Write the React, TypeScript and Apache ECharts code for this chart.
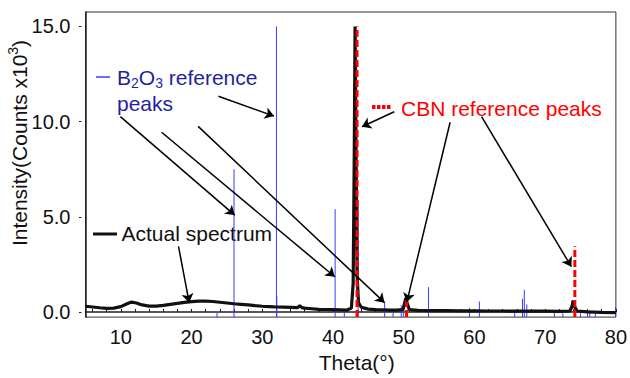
import React, { useEffect, useRef } from "react";
import * as echarts from "echarts";

// ---- Data (intensity in units of 10^3 counts) ----
const SPECTRUM_THETA = [
  5, 6, 7, 8, 9, 10, 10.8, 11.5, 12.2, 13, 14, 15, 16, 17, 18, 19, 20, 21, 22, 23, 24, 25, 26, 27, 28, 29, 30,
  31, 32, 33, 34, 35, 35.3, 35.6, 36, 37, 38, 39, 40, 41, 42, 42.6, 42.85, 43.0, 43.12, 43.25, 43.4, 43.6, 44.0,
  45, 46, 47, 48, 49, 49.9, 50.15, 50.3, 50.5, 50.8, 52, 54, 56, 58, 60, 62, 64, 66, 68, 70, 72, 73.5, 73.8,
  73.95, 74.15, 74.5, 76, 78, 80,
];
const SPECTRUM_INTENSITY = [
  0.3, 0.26, 0.22, 0.19, 0.2, 0.28, 0.42, 0.52, 0.47, 0.37, 0.31, 0.31, 0.35, 0.4, 0.45, 0.5, 0.54, 0.57, 0.57,
  0.55, 0.51, 0.47, 0.43, 0.4, 0.37, 0.33, 0.3, 0.28, 0.26, 0.25, 0.24, 0.23, 0.33, 0.23, 0.2, 0.17, 0.14, 0.13,
  0.12, 0.11, 0.1, 0.2, 1.5, 8.0, 15.0, 9.0, 2.0, 0.5, 0.25, 0.15, 0.12, 0.11, 0.1, 0.1, 0.12, 0.5, 0.72, 0.45,
  0.12, 0.08, 0.07, 0.07, 0.06, 0.06, 0.05, 0.05, 0.04, 0.04, 0.04, 0.03, 0.05, 0.3, 0.6, 0.3, 0.05, 0.0, -0.02,
  -0.03,
];

const B2O3_THETA = [
  23.6, 26.0, 32.0, 32.05, 40.3, 41.6, 43.55, 47.3, 48.5, 49.65, 49.95, 53.5, 59.3, 60.7, 65.7, 66.8, 67.05,
  67.4, 71.3, 72.5, 75.0, 76.0, 76.3, 77.1, 79.95,
];
const B2O3_HEIGHT = [
  -0.05, 7.5, 15.0, 0.83, 5.4, 0.09, 5.9, 0.5, 0.1, 0.35, 0.45, 1.3, 0.2, 0.55, 0.09, 0.7, 1.16, 0.4, 0.09,
  -0.07, -0.07, 0.09, 0.09, -0.07, 0.26,
];

const CBN_THETA = [43.4, 50.4, 74.2];
const CBN_HEIGHT = [15.0, 0.6, 3.45];

const X_TICK_LABELS = [10, 20, 30, 40, 50, 60, 70, 80];
const X_MINOR_TICKS = [6, 8, 10, 12, 14, 16, 18, 20, 22, 24, 26, 28, 30, 32, 34, 36, 38, 40, 42, 44, 46, 48, 50, 52, 54, 56, 58, 60, 62, 64, 66, 68, 70, 72, 74, 76, 78, 80];
const Y_TICK_LABELS = [0, 5, 10, 15];

// Annotation arrows: [startTheta, startIntensity, endTheta, endIntensity]
const ARROWS = [
  [23.8, 11.33, 31.65, 10.29],
  [9.93, 10.26, 26.1, 5.09],
  [15.76, 9.44, 40.25, 1.85],
  [20.93, 9.75, 47.29, 0.49],
  [48.66, 10.52, 44.09, 9.73],
  [56.56, 9.97, 50.44, 0.52],
  [61.01, 10.26, 73.7, 2.38],
  [18.15, 3.45, 19.66, 0.49],
];

const FONT = "'Liberation Sans', Arial, sans-serif";
const BLUE = "#3b3bff";
const RED = "#ff0000";

export default function App() {
  const ref = useRef<HTMLDivElement>(null);

  useEffect(() => {
    if (!ref.current) return;
    const chart = echarts.init(ref.current, undefined, { renderer: "svg" });

    const spectrum = SPECTRUM_THETA.map((t, i) => [t, SPECTRUM_INTENSITY[i]]);
    const b2o3 = B2O3_THETA.map((t, i) => [t, B2O3_HEIGHT[i]]);
    const cbn = CBN_THETA.map((t, i) => [t, CBN_HEIGHT[i]]);

    const stick = (color: string, width: number, dash?: number[]) => (params: any, api: any) => {
      const p = api.coord([api.value(0), api.value(1)]);
      const base = params.coordSys.y + params.coordSys.height;
      return {
        type: "line",
        shape: { x1: p[0], y1: base, x2: p[0], y2: p[1] },
        style: { stroke: color, lineWidth: width, lineDash: dash },
      };
    };

    chart.setOption({
      animation: false,
      textStyle: { fontFamily: FONT },
      grid: { left: 85.5, right: 12, top: 12, bottom: 56, show: true, borderColor: "#333", borderWidth: 1 },
      xAxis: {
        type: "value",
        min: 5,
        max: 80,
        axisLine: { lineStyle: { color: "#222", width: 1.5 } },
        axisTick: { inside: true, length: 3, customValues: X_MINOR_TICKS, lineStyle: { color: "#222" } },
        axisLabel: { customValues: X_TICK_LABELS, fontSize: 20, color: "#111", margin: 10, fontFamily: FONT },
        splitLine: { show: false },
        name: "Theta(°)",
        nameLocation: "middle",
        nameGap: 34,
        nameTextStyle: { fontSize: 21, color: "#111", fontFamily: FONT, padding: [0, 0, 0, 12] },
      },
      yAxis: [
        {
          type: "value",
          min: -0.27,
          max: 15.76,
          axisLine: { show: true, lineStyle: { color: "#222", width: 1.5 } },
          axisTick: { show: false },
          axisLabel: {
            customValues: Y_TICK_LABELS,
            formatter: (v: number) => v.toFixed(1),
            fontSize: 20,
            color: "#111",
            margin: 15,
            fontFamily: FONT,
          },
          splitLine: { show: false },
        },
        {
          type: "value",
          min: -0.27,
          max: 15.76,
          position: "left",
          offset: 4,
          axisLine: { show: false },
          axisTick: { show: true, length: 2.5, customValues: Y_TICK_LABELS, lineStyle: { color: "#222" } },
          axisLabel: { show: false },
          splitLine: { show: false },
        },
      ],
      series: [
        {
          type: "custom",
          name: "B2O3",
          data: b2o3,
          encode: { x: 0, y: 1 },
          renderItem: stick(BLUE, 1),
          z: 1,
          silent: true,
        },
        {
          type: "line",
          name: "Actual spectrum",
          data: spectrum,
          showSymbol: false,
          lineStyle: { color: "#111", width: 3.2 },
          z: 2,
          silent: true,
          markLine: {
            silent: true,
            symbol: ["none", "arrow"],
            symbolSize: 9,
            label: { show: false },
            lineStyle: { color: "#000", width: 1.5, type: "solid" },
            emphasis: { disabled: true },
            data: ARROWS.map((a) => [
              { coord: [a[0], a[1]] },
              { coord: [a[2], a[3]] },
            ]),
          },
        },
        {
          type: "custom",
          name: "CBN",
          data: cbn,
          encode: { x: 0, y: 1 },
          renderItem: stick(RED, 3, [7, 3]),
          z: 3,
          silent: true,
        },
      ],
      graphic: [
        { type: "line", shape: { x1: 96, y1: 77, x2: 110, y2: 77 }, style: { stroke: BLUE, lineWidth: 1.5 } },
        {
          type: "text",
          x: 117,
          y: 64,
          style: {
            text: "{n|B}{s|2}{n|O}{s|3}{n| reference}\n{n|peaks}",
            fill: "#1f1fa0",
            rich: {
              n: { fontSize: 21, fontFamily: FONT, fill: "#1f1fa0", lineHeight: 26 },
              s: { fontSize: 14, fontFamily: FONT, fill: "#1f1fa0", lineHeight: 26, verticalAlign: "bottom" },
            },
          },
        },
        {
          type: "line",
          shape: { x1: 372, y1: 107, x2: 391, y2: 107 },
          style: { stroke: RED, lineWidth: 4, lineDash: [3.5, 1.5] },
        },
        {
          type: "text",
          x: 401,
          y: 108.5,
          style: { text: "CBN reference peaks", fill: RED, font: `21px ${FONT}`, verticalAlign: "middle" },
        },
        { type: "line", shape: { x1: 93, y1: 234, x2: 117, y2: 234 }, style: { stroke: "#111", lineWidth: 3 } },
        {
          type: "text",
          x: 121.5,
          y: 233.5,
          style: { text: "Actual spectrum", fill: "#111", font: `21px ${FONT}`, verticalAlign: "middle" },
        },
        {
          type: "text",
          x: 19,
          y: 143,
          rotation: Math.PI / 2,
          style: {
            text: "{n|Intensity(Counts x10}{p|3}{n|)}",
            align: "center",
            verticalAlign: "middle",
            fill: "#111",
            rich: {
              n: { fontSize: 21, fontFamily: FONT, fill: "#111", lineHeight: 26 },
              p: { fontSize: 14, fontFamily: FONT, fill: "#111", lineHeight: 26, verticalAlign: "top" },
            },
          },
        },
      ],
    });

    return () => chart.dispose();
  }, []);

  return <div ref={ref} style={{ position: "absolute", left: 0, top: 0, width: 630, height: 378 }} />;
}
